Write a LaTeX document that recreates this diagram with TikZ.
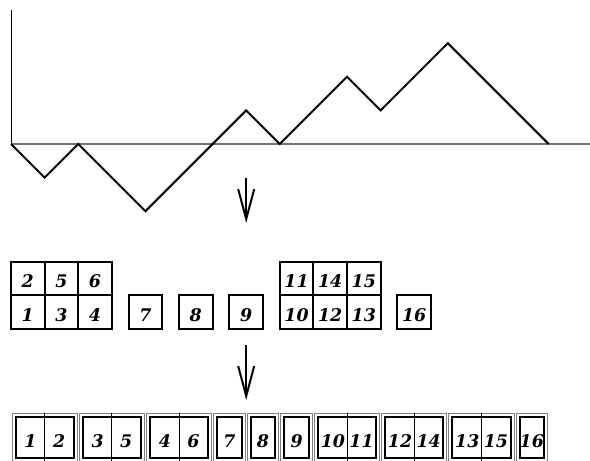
\documentclass[tikz,border=0pt]{standalone}
\usepackage{fontspec}
\newfontfamily\labfont{DejaVu Serif}
\usetikzlibrary{arrows.meta}
\begin{document}
\begin{tikzpicture}[x=0.5pt,y=-0.5pt,
  pathline/.style={line width=1pt,line join=miter},
  vaxis/.style={line width=0.5pt,black},
  haxis/.style={line width=0.6pt,black!55},
  labtext/.style={font=\labfont\bfseries\itshape\fontsize{8.7}{10}\selectfont},
  cellbox/.style={draw,line width=1pt,minimum width=16.8pt,minimum height=16.8pt,inner sep=0pt,text height=9pt,text depth=0pt,labtext},
  outerbox/.style={draw=black!50,line width=0.5pt},
  innerbox/.style={draw=black,line width=1pt},
  divider/.style={draw=black,line width=0.5pt},
  lab/.style={anchor=base,inner sep=0pt,labtext},
  bigarrow/.style={line width=1pt,-{Straight Barb[length=15pt,width=8pt]}}
]
\useasboundingbox (0,0) rectangle (590,461);

% axes
\coordinate (o) at (11,144);
\coordinate (ytop) at (11,10);
\coordinate (xend) at (590,144);
\draw[vaxis] (o) -- (ytop);
\draw[haxis] (o) -- (xend);

% lattice path
\draw[pathline] (o) -- ++(33.6,33.6) -- ++(33.6,-33.6) -- ++(67.2,67.2)
  -- ++(100.8,-100.8) -- ++(33.6,33.6) -- ++(67.2,-67.2) -- ++(33.6,33.6)
  -- ++(67.2,-67.2) -- ++(100.8,100.8);

% arrows
\coordinate (a1s) at (246.2,178);
\coordinate (a1e) at (246.2,223);
\coordinate (a2s) at (246.2,345);
\coordinate (a2e) at (246.2,400);
\draw[bigarrow] (a1s) -- (a1e);
\draw[bigarrow] (a2s) -- (a2e);

% middle row
\node[cellbox] (m2) at (27.8,278.4) {2};
\node[cellbox] (m5) at (61.4,278.4) {5};
\node[cellbox] (m6) at (95,278.4) {6};
\node[cellbox] (m1) at (27.8,312) {1};
\node[cellbox] (m3) at (61.4,312) {3};
\node[cellbox] (m4) at (95,312) {4};
\node[cellbox] (m7) at (145.4,312) {7};
\node[cellbox] (m8) at (195.8,312) {8};
\node[cellbox] (m9) at (246.2,312) {9};
\node[cellbox] (m11) at (296.6,278.4) {11};
\node[cellbox] (m14) at (330.2,278.4) {14};
\node[cellbox] (m15) at (363.8,278.4) {15};
\node[cellbox] (m10) at (296.6,312) {10};
\node[cellbox] (m12) at (330.2,312) {12};
\node[cellbox] (m13) at (363.8,312) {13};
\node[cellbox] (m16) at (414.2,312) {16};

% bottom row: pairs
\foreach \k/\a/\b in {0/1/2,2/3/5,4/4/6,9/10/11,11/12/14,13/13/15}{
  \pgfmathsetmacro{\xa}{11+\k*33.6}
  \pgfmathsetmacro{\xb}{\xa+67.2}
  \pgfmathsetmacro{\xm}{\xa+33.6}
  \draw[outerbox] (\xa+1,413) rectangle (\xb-1,463);
  \draw[innerbox] (\xa+4.5,417) rectangle (\xb-4.5,458);
  \draw[divider] (\xm,413) -- (\xm,463);
  \node[lab] (b\a) at (\xa+19.5,447) {\a};
  \node[lab] (b\b) at (\xm+14.5,447) {\b};
}
% bottom row: singles
\foreach \k/\a in {6/7,7/8,8/9,15/16}{
  \pgfmathsetmacro{\xa}{11+\k*33.6}
  \pgfmathsetmacro{\xb}{\xa+33.6}
  \draw[outerbox] (\xa+1,413) rectangle (\xb-1,463);
  \draw[innerbox] (\xa+4.5,417) rectangle (\xb-4.5,458);
  \node[lab] (b\a) at (\xa+16.8,447) {\a};
}
\end{tikzpicture}
\end{document}
